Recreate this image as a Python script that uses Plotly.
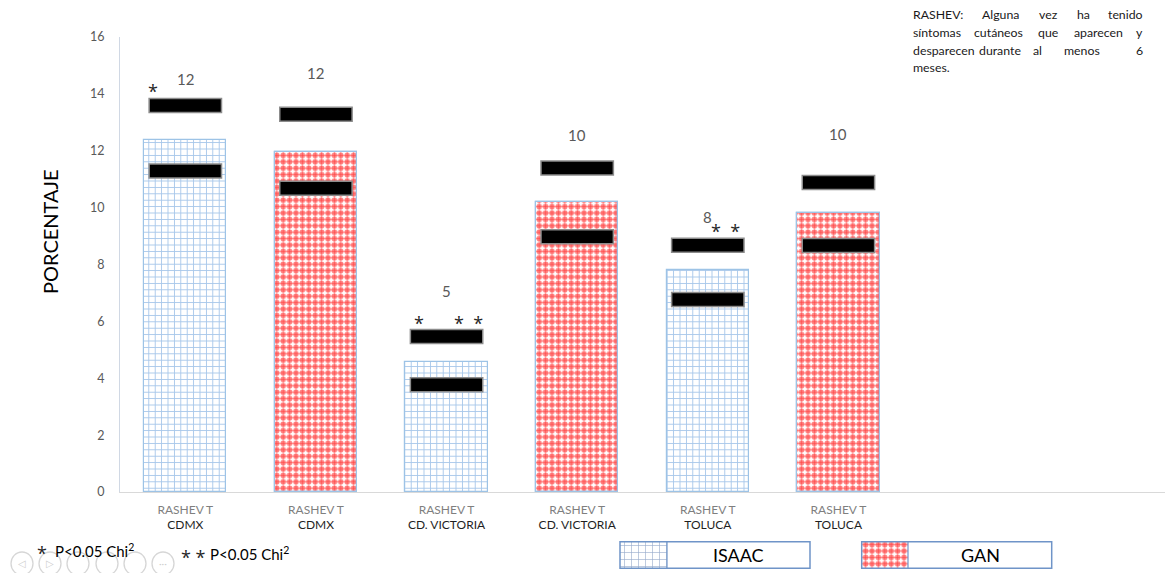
import plotly.graph_objects as go

# ---- data -------------------------------------------------------------
groups = ["ISAAC", "GAN", "ISAAC", "GAN", "ISAAC", "GAN"]
sites = ["CDMX", "CDMX", "CD. VICTORIA", "CD. VICTORIA", "TOLUCA", "TOLUCA"]
pct = [12.38, 11.95, 4.58, 10.2, 7.8, 9.8]           # PORCENTAJE
ci_upper = [13.59, 13.28, 5.47, 11.39, 8.68, 10.88]
ci_lower = [11.29, 10.68, 3.77, 8.98, 6.77, 8.67]
y_ticks = [0, 2, 4, 6, 8, 10, 12, 14, 16]

W, H = 1167, 573
FONT = "Lato, 'Open Sans', sans-serif"
BLUE = "#4F8FD6"
RED = "#FF0000"
CLEAR = "rgba(0,0,0,0)"


def px(x):
    return x / W


def py(y):
    return 1 - y / H


def note(x, y, text, font, **kw):
    """Paper-positioned text, given in pixel coordinates."""
    d = dict(x=px(x), y=py(y), xref="paper", yref="paper", text=text, showarrow=False,
             xanchor="center", yanchor="middle", font=font)
    d.update(kw)
    return d


isaac_pattern = dict(shape="+", fgcolor=BLUE, bgcolor="white", size=6.4, solidity=0.27)
gan_lines = dict(shape="+", fgcolor=RED, bgcolor="white", size=6.4, solidity=0.14)
gan_dots = dict(shape=".", fgcolor=RED, bgcolor=CLEAR, size=6.4, solidity=0.62)

xi = [i for i, g in enumerate(groups) if g == "ISAAC"]
xg = [i for i, g in enumerate(groups) if g == "GAN"]

fig = go.Figure()
fig.add_trace(go.Bar(
    x=xi, y=[pct[i] for i in xi], width=0.63, name="ISAAC",
    marker=dict(color="white", pattern=isaac_pattern, line=dict(color="#9DC3E6", width=1.2)),
    showlegend=False, hoverinfo="skip"))
# GAN bars: thin red lattice with red dots on its crossings
fig.add_trace(go.Bar(
    x=xg, y=[pct[i] for i in xg], width=0.63, name="GAN",
    marker=dict(color="white", pattern=gan_lines, line=dict(color="#9DC3E6", width=1.2)),
    showlegend=False, hoverinfo="skip"))
fig.add_trace(go.Bar(
    x=xg, y=[pct[i] for i in xg], width=0.63, name="GAN",
    marker=dict(color=CLEAR, pattern=gan_dots, line=dict(color="#9DC3E6", width=1.2)),
    showlegend=False, hoverinfo="skip"))

# legend swatches, drawn on a small pixel-scaled helper axis at the bottom
LEG_X0, LEG_X1, LEG_Y0, LEG_Y1 = 600, 1060, 535, 573
fig.add_trace(go.Bar(
    x=[643.5], y=[26.6], base=[541.7], width=[47], xaxis="x2", yaxis="y2",
    marker=dict(color="white", pattern=dict(shape="+", fgcolor="#2F5597", bgcolor="white",
                                            size=7, solidity=0.17), line=dict(width=0)),
    showlegend=False, hoverinfo="skip"))
for pat, col in [(gan_lines, "white"), (gan_dots, CLEAR)]:
    fig.add_trace(go.Bar(
        x=[885], y=[26.6], base=[541.7], width=[46.3], xaxis="x2", yaxis="y2",
        marker=dict(color=col, pattern=pat, line=dict(width=0)),
        showlegend=False, hoverinfo="skip"))

shapes = []
# black interval markers
for i in range(len(pct)):
    for v in (ci_upper[i], ci_lower[i]):
        shapes.append(dict(type="rect", xref="x", yref="y", x0=i - 0.277, x1=i + 0.277,
                           ysizemode="pixel", yanchor=v, y0=-7, y1=7,
                           fillcolor="black", line=dict(color="#8C8C8C", width=1.5)))

# legend boxes
for x0, x1, sw in [(620, 810, 667), (861.7, 1051.7, 908)]:
    shapes.append(dict(type="rect", xref="paper", yref="paper", x0=px(x0), x1=px(x1),
                       y0=py(568.3), y1=py(541.7), line=dict(color="#6F94C8", width=1.5)))
    shapes.append(dict(type="line", xref="paper", yref="paper", x0=px(sw), x1=px(sw),
                       y0=py(568.3), y1=py(541.7), line=dict(color="#6F94C8", width=1.2)))

# slideshow navigation buttons
nav_x = [22, 50, 78, 107, 135, 163]
for cx in nav_x:
    shapes.append(dict(type="circle", xref="paper", yref="paper",
                       x0=px(cx - 11), x1=px(cx + 11), y0=py(575), y1=py(552),
                       line=dict(color="#D6D6D6", width=1.3)))

annotations = []
# value labels
label_shift = [27, 41, 45, 33, 28, 49]
for i, v in enumerate(pct):
    annotations.append(dict(x=i, y=ci_upper[i], xref="x", yref="y", text=f"{round(v)}",
                            showarrow=False, yshift=label_shift[i],
                            xanchor="center", yanchor="middle",
                            font=dict(family=FONT, size=15, color="#595959")))

# significance marks
star_font = dict(family="'Open Sans', sans-serif", size=18, color="#262626")
for x, y, t in [(-0.25, 14.1, "*"), (1.79, 5.93, "*"), (2.165, 5.93, "*  *"), (4.135, 9.17, "*  *")]:
    annotations.append(dict(x=x, y=y, xref="x", yref="y", text=t, showarrow=False,
                            xanchor="center", yanchor="middle", font=star_font))

# y-axis title
annotations.append(note(50, 232, "PORCENTAJE", dict(family=FONT, size=20, color="#000000"),
                        textangle=-90))

# chart title (runs off the top edge)
annotations.append(note(573, 5, "<b>ISAAC VS GAN</b>",
                        dict(family=FONT, size=18, color="#8C8C8C"), yanchor="bottom"))

# description note, justified by hand (left edge 911, right edge 1145)
note_font = dict(family=FONT, size=12.3, color="#1A1A1A")
for word, x0, cy, anchor in [
        ("RASHEV:", 911, 15, "left"), ("Alguna", 980, 15, "left"), ("vez", 1037, 15, "left"),
        ("ha", 1075, 15, "left"), ("tenido", 1145, 15, "right"),
        ("síntomas", 911, 32.5, "left"), ("cutáneos", 972, 32.5, "left"),
        ("que", 1036, 32.5, "left"), ("aparecen", 1072, 32.5, "left"),
        ("y", 1145, 32.5, "right"),
        ("desparecen", 911, 50, "left"), ("durante", 977, 50, "left"), ("al", 1031, 50, "left"),
        ("menos", 1062, 50, "left"), ("6", 1145, 50, "right"),
        ("meses.", 911, 67, "left")]:
    annotations.append(note(x0, cy, word, note_font, xanchor=anchor))

# significance footnotes
foot_font = dict(family=FONT, size=15, color="#000000")
annotations.append(note(42, 553, "*", star_font))
annotations.append(note(53, 550, "P<0.05 Chi<sup>2</sup>", foot_font, xanchor="left"))
annotations.append(note(193, 557, "* *", star_font))
annotations.append(note(208, 553, "P<0.05 Chi<sup>2</sup>", foot_font, xanchor="left"))

# legend labels
for name, cx in [("ISAAC", 738), ("GAN", 980)]:
    annotations.append(note(cx, 555, name, dict(family=FONT, size=18, color="#000000")))

# navigation glyphs
for g, cx in [("◁", 22), ("▷", 50), ("···", 163)]:
    annotations.append(note(cx, 563, g, dict(family=FONT, size=10, color="#CFCFCF")))

tick_text = [f"RASHEV T<br><span style='color:#1F1F1F'>{s}</span>" for s in sites]

fig.update_layout(
    width=W, height=H,
    margin=dict(l=0, r=0, t=0, b=0),
    paper_bgcolor="white", plot_bgcolor=CLEAR,
    barmode="overlay", bargap=0,
    font=dict(family=FONT),
    xaxis=dict(domain=[px(120), px(1165)], range=[-0.5, 7.5],
               tickvals=list(range(len(sites))), ticktext=tick_text,
               tickfont=dict(family=FONT, size=12, color="#7F7F7F"),
               showline=True, linecolor="#D9D9D9", linewidth=1.2,
               showgrid=False, zeroline=False, ticks="", ticklabelstandoff=6,
               automargin=False),
    yaxis=dict(domain=[py(492), py(37)], range=[0, 16], tickvals=y_ticks,
               tickfont=dict(family=FONT, size=12.5, color="#595959"),
               showline=True, linecolor="#D0D8E4", linewidth=1.2,
               showgrid=False, zeroline=False, ticks="", ticklabelstandoff=12,
               automargin=False),
    xaxis2=dict(domain=[px(LEG_X0), px(LEG_X1)], range=[LEG_X0, LEG_X1],
                visible=False, anchor="y2"),
    yaxis2=dict(domain=[py(LEG_Y1), py(LEG_Y0)], range=[LEG_Y1, LEG_Y0],
                visible=False, anchor="x2"),
    shapes=shapes,
    annotations=annotations,
)

fig.write_html("out.html")
